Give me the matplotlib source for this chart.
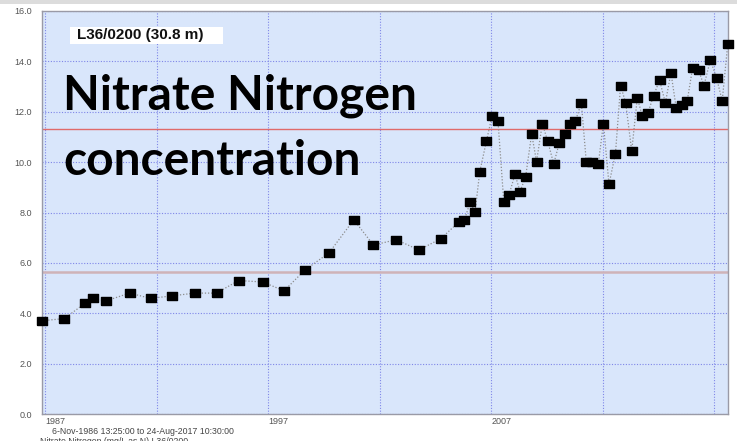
import numpy as np
import matplotlib.pyplot as plt
from matplotlib.patches import Rectangle

# --------------------------------------------------------------------------- #
# Data                                       #
# --------------------------------------------------------------------------- #
sample_year = [
    1986.85, 1987.85, 1988.79, 1989.12, 1989.72, 1990.78, 1991.72, 1992.68,
    1993.71, 1994.68, 1995.67, 1996.76, 1997.71, 1998.64, 1999.73, 2000.84,
    2001.72, 2002.75, 2003.76, 2004.74, 2005.54, 2005.80, 2006.06, 2006.28,
    2006.49, 2006.79, 2007.04, 2007.31, 2007.57, 2007.81, 2008.07, 2008.30,
    2008.55, 2008.82, 2009.04, 2009.30, 2009.54, 2009.81, 2010.06, 2010.30,
    2010.53, 2010.78, 2011.05, 2011.27, 2011.54, 2011.81, 2012.04, 2012.29,
    2012.58, 2012.81, 2013.04, 2013.31, 2013.56, 2013.79, 2014.04, 2014.29,
    2014.56, 2014.82, 2015.07, 2015.31, 2015.56, 2015.80, 2016.04, 2016.31,
    2016.55, 2016.84, 2017.12, 2017.37, 2017.62,
]
nitrate_n = [
    3.70, 3.79, 4.40, 4.59, 4.49, 4.80, 4.59, 4.69,
    4.80, 4.80, 5.30, 5.24, 4.89, 5.71, 6.40, 7.71,
    6.71, 6.92, 6.51, 6.96, 7.61, 7.70, 8.40, 8.02,
    9.61, 10.83, 11.82, 11.62, 8.42, 8.71, 9.52, 8.83,
    9.42, 11.12, 10.02, 11.53, 10.83, 9.93, 10.76, 11.13,
    11.53, 11.62, 12.35, 10.02, 10.02, 9.93, 11.53, 9.12,
    10.34, 13.04, 12.35, 10.44, 12.55, 11.82, 11.96, 12.64,
    13.25, 12.35, 13.55, 12.13, 12.25, 12.43, 13.73, 13.65,
    13.04, 14.05, 13.33, 12.43, 14.70,
]

MAV = 11.3          # maximum acceptable value
HALF_MAV = 5.65

grid_years = [1987, 1992, 1997, 2002, 2007, 2012, 2017]
year_labels = ["1987", "", "1997", "", "2007", "", ""]
y_ticks = [0, 2, 4, 6, 8, 10, 12, 14, 16]

W, H = 737, 441

# --------------------------------------------------------------------------- #
# Plot                                                                        #
# --------------------------------------------------------------------------- #
fig = plt.figure(figsize=(W / 100, H / 100), dpi=100)
fig.patch.set_facecolor("white")
# thin grey band at the very top of the screenshot
fig.patches.append(Rectangle((0, 1 - 4 / H), 1, 4 / H, transform=fig.transFigure,
                             facecolor="#dcdcdc", edgecolor="none"))

ax = fig.add_axes([42 / W, 27 / H, 686 / W, 403 / H])
ax.set_facecolor("#d9e6fb")

ax.axhline(MAV, color="#e06a6a", lw=1.0, zorder=1)
ax.axhline(HALF_MAV, color="#cfb3b8", lw=1.8, zorder=1)

box = [(-1, -0.8), (1, -0.8), (1, 0.8), (-1, 0.8), (-1, -0.8)]
ax.plot(sample_year, nitrate_n, color="#8c8c8c", lw=0.9,
        linestyle=(0, (1, 1.5)), marker=box, markersize=7.4,
        markerfacecolor="black", markeredgecolor="black",
        clip_on=False, zorder=3)

ax.set_xlim(1986.85, 2017.63)
ax.set_ylim(0, 16)

ax.set_xticks(grid_years)
ax.set_xticklabels(year_labels, ha="left")
ax.set_yticks(y_ticks)
ax.set_yticklabels([f"{v:.1f}" for v in y_ticks])
ax.tick_params(axis="both", length=0, labelsize=6.5, colors="#555555")
for lab in ax.get_xticklabels() + ax.get_yticklabels():
    lab.set_family("Liberation Sans")
ax.tick_params(axis="y", pad=7)
ax.tick_params(axis="x", pad=2)

ax.grid(True, color="#7f86e8", linestyle=(0, (1, 1.5)), lw=0.8, zorder=0)
ax.set_axisbelow(True)
for s in ax.spines.values():
    s.set_color("#9a9aa6")
    s.set_linewidth(1.0)

# station label box
fig.patches.append(Rectangle((70 / W, 1 - 44 / H), 153 / W, 17 / H,
                             transform=fig.transFigure, facecolor="white",
                             edgecolor="none", zorder=5))
fig.text(77 / W, 1 - 35.5 / H, "L36/0200 (30.8 m)", fontsize=11,
         fontweight="bold", family="Liberation Sans", color="#111111",
         ha="left", va="center", zorder=6)

# big overlay title
ax.text(0.031, (414 - 110) / 403, "Nitrate Nitrogen", transform=ax.transAxes,
        fontsize=34.5, fontweight="bold", family="Lato", color="black",
        ha="left", va="baseline")
ax.text(0.031, (414 - 175) / 403, "concentration", transform=ax.transAxes,
        fontsize=34.5, fontweight="bold", family="Lato", color="black",
        ha="left", va="baseline")

fig.text(52 / W, 1 - 431 / H, "6-Nov-1986 13:25:00 to 24-Aug-2017 10:30:00",
         fontsize=6.3, color="#444444", family="Liberation Sans",
         ha="left", va="center")
fig.text(40 / W, 1 - 442 / H, "Nitrate Nitrogen (mg/L as N) L36/0200",
         fontsize=6.3, color="#444444", family="Liberation Sans",
         ha="left", va="center")

fig.savefig("out.png", dpi=100)
